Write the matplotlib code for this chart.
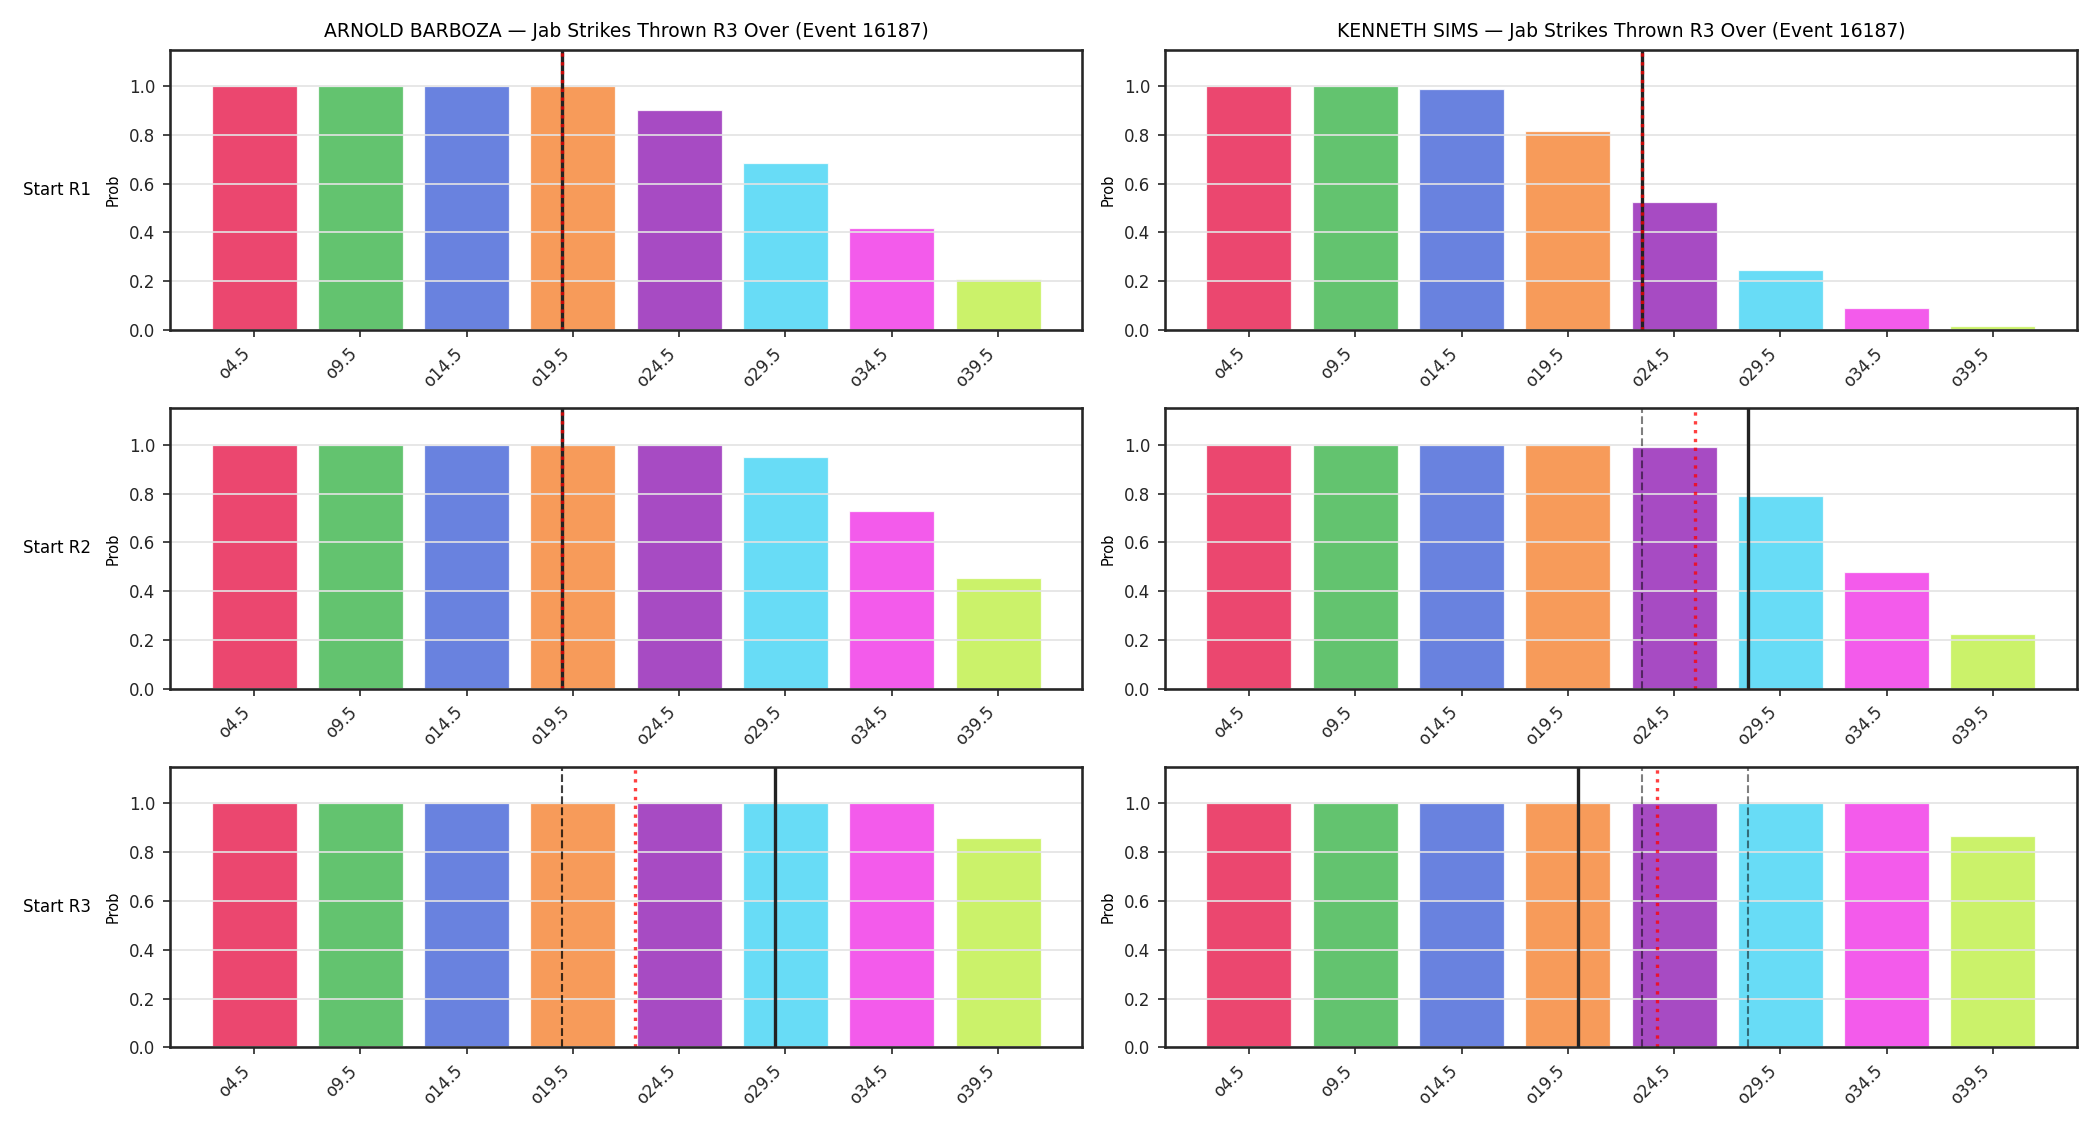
import numpy as np
import matplotlib
matplotlib.use("Agg")
import matplotlib.pyplot as plt

# ---------------- data ----------------
categories = ["o4.5", "o9.5", "o14.5", "o19.5", "o24.5", "o29.5", "o34.5", "o39.5"]
lines_values = [4.5, 9.5, 14.5, 19.5, 24.5, 29.5, 34.5, 39.5]

fighters = ["ARNOLD BARBOZA", "KENNETH SIMS"]
row_labels = ["Start R1", "Start R2", "Start R3"]

barboza_r1 = [1.0, 1.0, 1.0, 1.0, 0.90, 0.685, 0.42, 0.21]
barboza_r2 = [1.0, 1.0, 1.0, 1.0, 1.0, 0.95, 0.73, 0.455]
barboza_r3 = [1.0, 1.0, 1.0, 1.0, 1.0, 1.0, 1.0, 0.86]

sims_r1 = [1.0, 1.0, 0.99, 0.815, 0.525, 0.245, 0.092, 0.015]
sims_r2 = [1.0, 1.0, 1.0, 1.0, 0.99, 0.79, 0.48, 0.225]
sims_r3 = [1.0, 1.0, 1.0, 1.0, 1.0, 1.0, 1.0, 0.865]

# projected total (solid), market line (red dotted), per starting round
barboza_proj = [19.0, 19.0, 29.0]
barboza_line = [19.0, 19.0, 22.4]
sims_proj = [23.0, 28.0, 20.0]
sims_line = [23.0, 25.5, 23.7]

probs = [[barboza_r1, sims_r1], [barboza_r2, sims_r2], [barboza_r3, sims_r3]]
projs = [barboza_proj, sims_proj]
mlines = [barboza_line, sims_line]

colors = ["#e6194b", "#3cb44b", "#4363d8", "#f58231",
          "#911eb4", "#42d4f4", "#f032e6", "#bfef45"]


def to_pos(v):
    # map a strike count onto the categorical bar axis
    return np.interp(v, lines_values, np.arange(len(lines_values)))


plt.rcParams["font.family"] = ["DejaVu Sans"]
plt.rcParams["axes.edgecolor"] = "#262626"
plt.rcParams["axes.linewidth"] = 1.25
plt.rcParams["xtick.color"] = "#262626"
plt.rcParams["ytick.color"] = "#262626"

fig, axes = plt.subplots(3, 2, figsize=(14, 7.5), dpi=150)
fig.subplots_adjust(left=0.081, right=0.989, top=0.956, bottom=0.069,
                    wspace=0.091, hspace=0.279)

x = np.arange(len(categories))
for r in range(3):
    for c in range(2):
        ax = axes[r, c]
        ax.bar(x, probs[r][c], color=colors, alpha=0.8, width=0.8,
               edgecolor="white", linewidth=0.6)
        ax.set_ylim(0, 1.15)
        ax.set_xticks(x)
        ax.set_xticklabels(categories, rotation=45, ha="right", fontsize=8)
        ax.tick_params(axis="y", labelsize=8)
        ax.set_ylabel("Prob", fontsize=7)
        ax.grid(axis="y", color="#e3e3e3", linewidth=0.8)
        # previous rounds' projections (dashed)
        for k in range(r):
            ax.axvline(to_pos(projs[c][k]), color="black", alpha=0.5,
                       linestyle="--", linewidth=1.0)
        ax.axvline(to_pos(projs[c][r]), color="#222222", linewidth=1.6)
        ax.axvline(to_pos(mlines[c][r]), color="red", alpha=0.75,
                   linestyle=":", linewidth=1.6)
        if r == 0:
            ax.set_title(f"{fighters[c]} \u2014 Jab Strikes Thrown R3 Over (Event 16187)",
                         fontsize=9)
        if c == 0:
            ax.text(-0.087, 0.5, row_labels[r], transform=ax.transAxes,
                    ha="right", va="center", fontsize=8)

fig.savefig("out.png", dpi=150)
